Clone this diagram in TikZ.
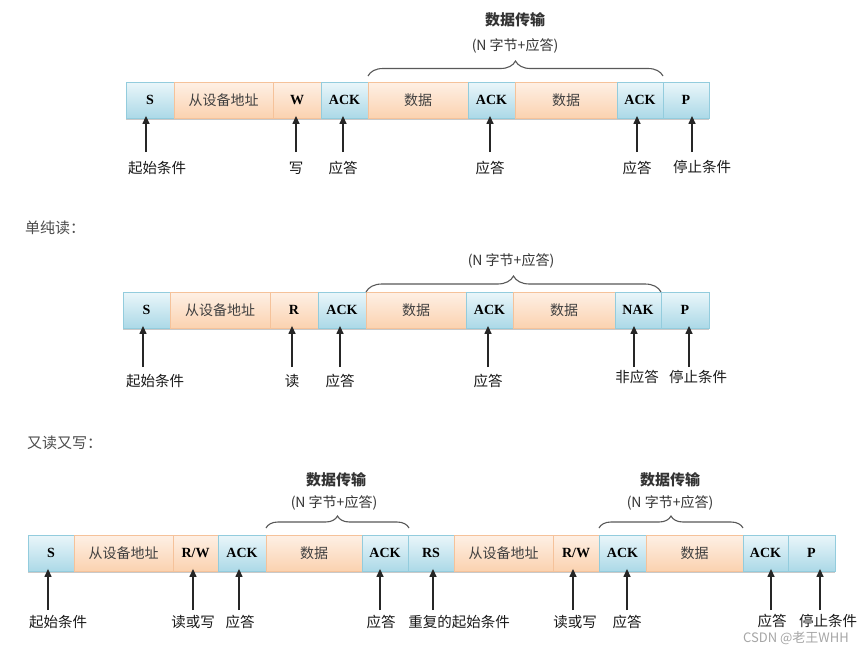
\documentclass[tikz,border=0pt]{standalone}
\usepackage{fontspec}
\setmainfont{Liberation Serif}
\newfontfamily\cjk{Noto Sans CJK SC}
\usetikzlibrary{arrows.meta,decorations.pathreplacing,shadows}
\definecolor{bluetop}{HTML}{EAF6FA}
\definecolor{bluebot}{HTML}{ACD9E7}
\definecolor{blueedge}{HTML}{93CCDD}
\definecolor{ortop}{HTML}{FEF0E5}
\definecolor{orbot}{HTML}{FBD2B0}
\definecolor{oredge}{HTML}{F5C29A}
\definecolor{txtgray}{HTML}{404040}
\newcommand\cn[1]{{\cjk\mdseries\color{txtgray}#1}}
\newcommand\seg[6]{\node[#1, minimum width={(#4-#3)*1pt}] (#2) at ({(#3+#4)/2},#5) {#6};}
\newcommand\upar[4]{\coordinate (#1) at (#2,#3); \draw[arr] (#1) -- (#1 |- #4.south);}
\tikzset{
  seg/.style={minimum height=36pt, inner sep=0pt, line width=0.8pt,
    drop shadow={shadow xshift=0pt, shadow yshift=-2pt, opacity=0.35, fill=black!60},
    font=\fontsize{14}{16}\selectfont\bfseries},
  bbox/.style={seg, draw=blueedge, top color=bluetop, bottom color=bluebot},
  obox/.style={seg, draw=oredge, top color=ortop, bottom color=orbot},
  lbl/.style={font=\cjk\fontsize{14.5}{16}\selectfont, text=black!90, inner sep=0pt},
  arr/.style={-{Triangle[width=7pt,length=8pt]}, line width=1.3pt, draw=black!85, shorten >=-2.5pt},
  bracestyle/.style={decorate, decoration={brace, amplitude=#1}, line width=1.1pt, draw=black!65},
  ttl/.style={font=\cjk\fontsize{15}{17}\selectfont\bfseries, text=black!80, inner sep=0pt},
  sub/.style={font=\cjk\fontsize{14}{16}\selectfont, text=black!80, inner sep=0pt},
  head/.style={font=\cjk\fontsize{15}{17}\selectfont, text=black!70, inner sep=0pt, anchor=west}
}
\begin{document}
\begin{tikzpicture}[x=1pt,y=-1pt]
\useasboundingbox[fill=white] (0,0) rectangle (865,649);
% ---------- Row 1 ----------
\seg{bbox}{a1}{126}{174}{100}{S}
\seg{obox}{a2}{174}{273}{100}{\cn{从设备地址}}
\seg{obox}{a3}{273}{321}{100}{W}
\seg{bbox}{a4}{321}{368}{100}{ACK}
\seg{obox}{a5}{368}{468}{100}{\cn{数据}}
\seg{bbox}{a6}{468}{515}{100}{ACK}
\seg{obox}{a7}{515}{617}{100}{\cn{数据}}
\seg{bbox}{a8}{617}{663}{100}{ACK}
\seg{bbox}{a9}{663}{709}{100}{P}
\coordinate (br1a) at (368,76); \coordinate (br1b) at (663,76);
\draw[bracestyle=15pt] (br1a) -- (br1b);
\node[ttl] (t1) at (515,20) {数据传输};
\node[sub] (s1) at (515,46) {(N 字节+应答)};
\upar{p11}{146}{152}{a1}
\upar{p12}{296}{152}{a3}
\upar{p13}{343}{152}{a4}
\upar{p14}{490}{152}{a6}
\upar{p15}{637}{152}{a8}
\upar{p16}{692}{152}{a9}
\node[lbl] (l11) at (157,168) {起始条件};
\node[lbl] (l12) at (296,168) {写};
\node[lbl] (l13) at (343,168) {应答};
\node[lbl] (l14) at (490,168) {应答};
\node[lbl] (l15) at (637,168) {应答};
\node[lbl] (l16) at (702,167) {停止条件};
% ---------- Row 2 ----------
\node[head] (h2) at (25,228) {单纯读：};
\seg{bbox}{b1}{123}{170}{310}{S}
\seg{obox}{b2}{170}{270}{310}{\cn{从设备地址}}
\seg{obox}{b3}{270}{318}{310}{R}
\seg{bbox}{b4}{318}{366}{310}{ACK}
\seg{obox}{b5}{366}{466}{310}{\cn{数据}}
\seg{bbox}{b6}{466}{513}{310}{ACK}
\seg{obox}{b7}{513}{615}{310}{\cn{数据}}
\seg{bbox}{b8}{615}{661}{310}{NAK}
\seg{bbox}{b9}{661}{709}{310}{P}
\coordinate (br2a) at (366,292); \coordinate (br2b) at (661,292);
\draw[bracestyle=16pt] (br2a) -- (br2b);
\node[sub] (s2) at (511,261) {(N 字节+应答)};
\upar{p21}{143}{367}{b1}
\upar{p22}{292}{367}{b3}
\upar{p23}{340}{367}{b4}
\upar{p24}{488}{367}{b6}
\upar{p25}{634}{367}{b8}
\upar{p26}{689}{367}{b9}
\node[lbl] (l21) at (155,381) {起始条件};
\node[lbl] (l22) at (292,381) {读};
\node[lbl] (l23) at (340,381) {应答};
\node[lbl] (l24) at (488,381) {应答};
\node[lbl] (l25) at (637,377) {非应答};
\node[lbl] (l26) at (698,377) {停止条件};
% ---------- Row 3 ----------
\node[head] (h3) at (27,443) {又读又写：};
\seg{bbox}{c1}{28}{74}{553}{S}
\seg{obox}{c2}{74}{173}{553}{\cn{从设备地址}}
\seg{obox}{c3}{173}{218}{553}{R/W}
\seg{bbox}{c4}{218}{266}{553}{ACK}
\seg{obox}{c5}{266}{362}{553}{\cn{数据}}
\seg{bbox}{c6}{362}{408}{553}{ACK}
\seg{bbox}{c7}{408}{454}{553}{RS}
\seg{obox}{c8}{454}{553}{553}{\cn{从设备地址}}
\seg{obox}{c9}{553}{599}{553}{R/W}
\seg{bbox}{c10}{599}{646}{553}{ACK}
\seg{obox}{c11}{646}{743}{553}{\cn{数据}}
\seg{bbox}{c12}{743}{788}{553}{ACK}
\seg{bbox}{c13}{788}{835}{553}{P}
\coordinate (br3a) at (266,528); \coordinate (br3b) at (409,528);
\draw[bracestyle=12pt] (br3a) -- (br3b);
\coordinate (br4a) at (599,528); \coordinate (br4b) at (743,528);
\draw[bracestyle=12pt] (br4a) -- (br4b);
\node[ttl] (t3) at (336,480) {数据传输};
\node[sub] (s3) at (334,503) {(N 字节+应答)};
\node[ttl] (t4) at (670,480) {数据传输};
\node[sub] (s4) at (670,503) {(N 字节+应答)};
\upar{p31}{48}{610}{c1}
\upar{p32}{193}{610}{c3}
\upar{p33}{239}{610}{c4}
\upar{p34}{380}{610}{c6}
\upar{p35}{433}{610}{c7}
\upar{p36}{573}{610}{c9}
\upar{p37}{627}{610}{c10}
\upar{p38}{771}{610}{c12}
\upar{p39}{820}{610}{c13}
\node[lbl] (l31) at (58,622) {起始条件};
\node[lbl] (l32) at (193,622) {读或写};
\node[lbl] (l33) at (240,622) {应答};
\node[lbl] (l34) at (381,622) {应答};
\node[lbl] (l35) at (459,622) {重复的起始条件};
\node[lbl] (l36) at (575,622) {读或写};
\node[lbl] (l37) at (627,622) {应答};
\node[lbl] (l38) at (772,621) {应答};
\node[lbl] (l39) at (828,621) {停止条件};
\node[font=\cjk\fontsize{13}{15}\selectfont, text=black!35, inner sep=0pt] (wm) at (796,638) {CSDN @老王WHH};
\end{tikzpicture}
\end{document}
